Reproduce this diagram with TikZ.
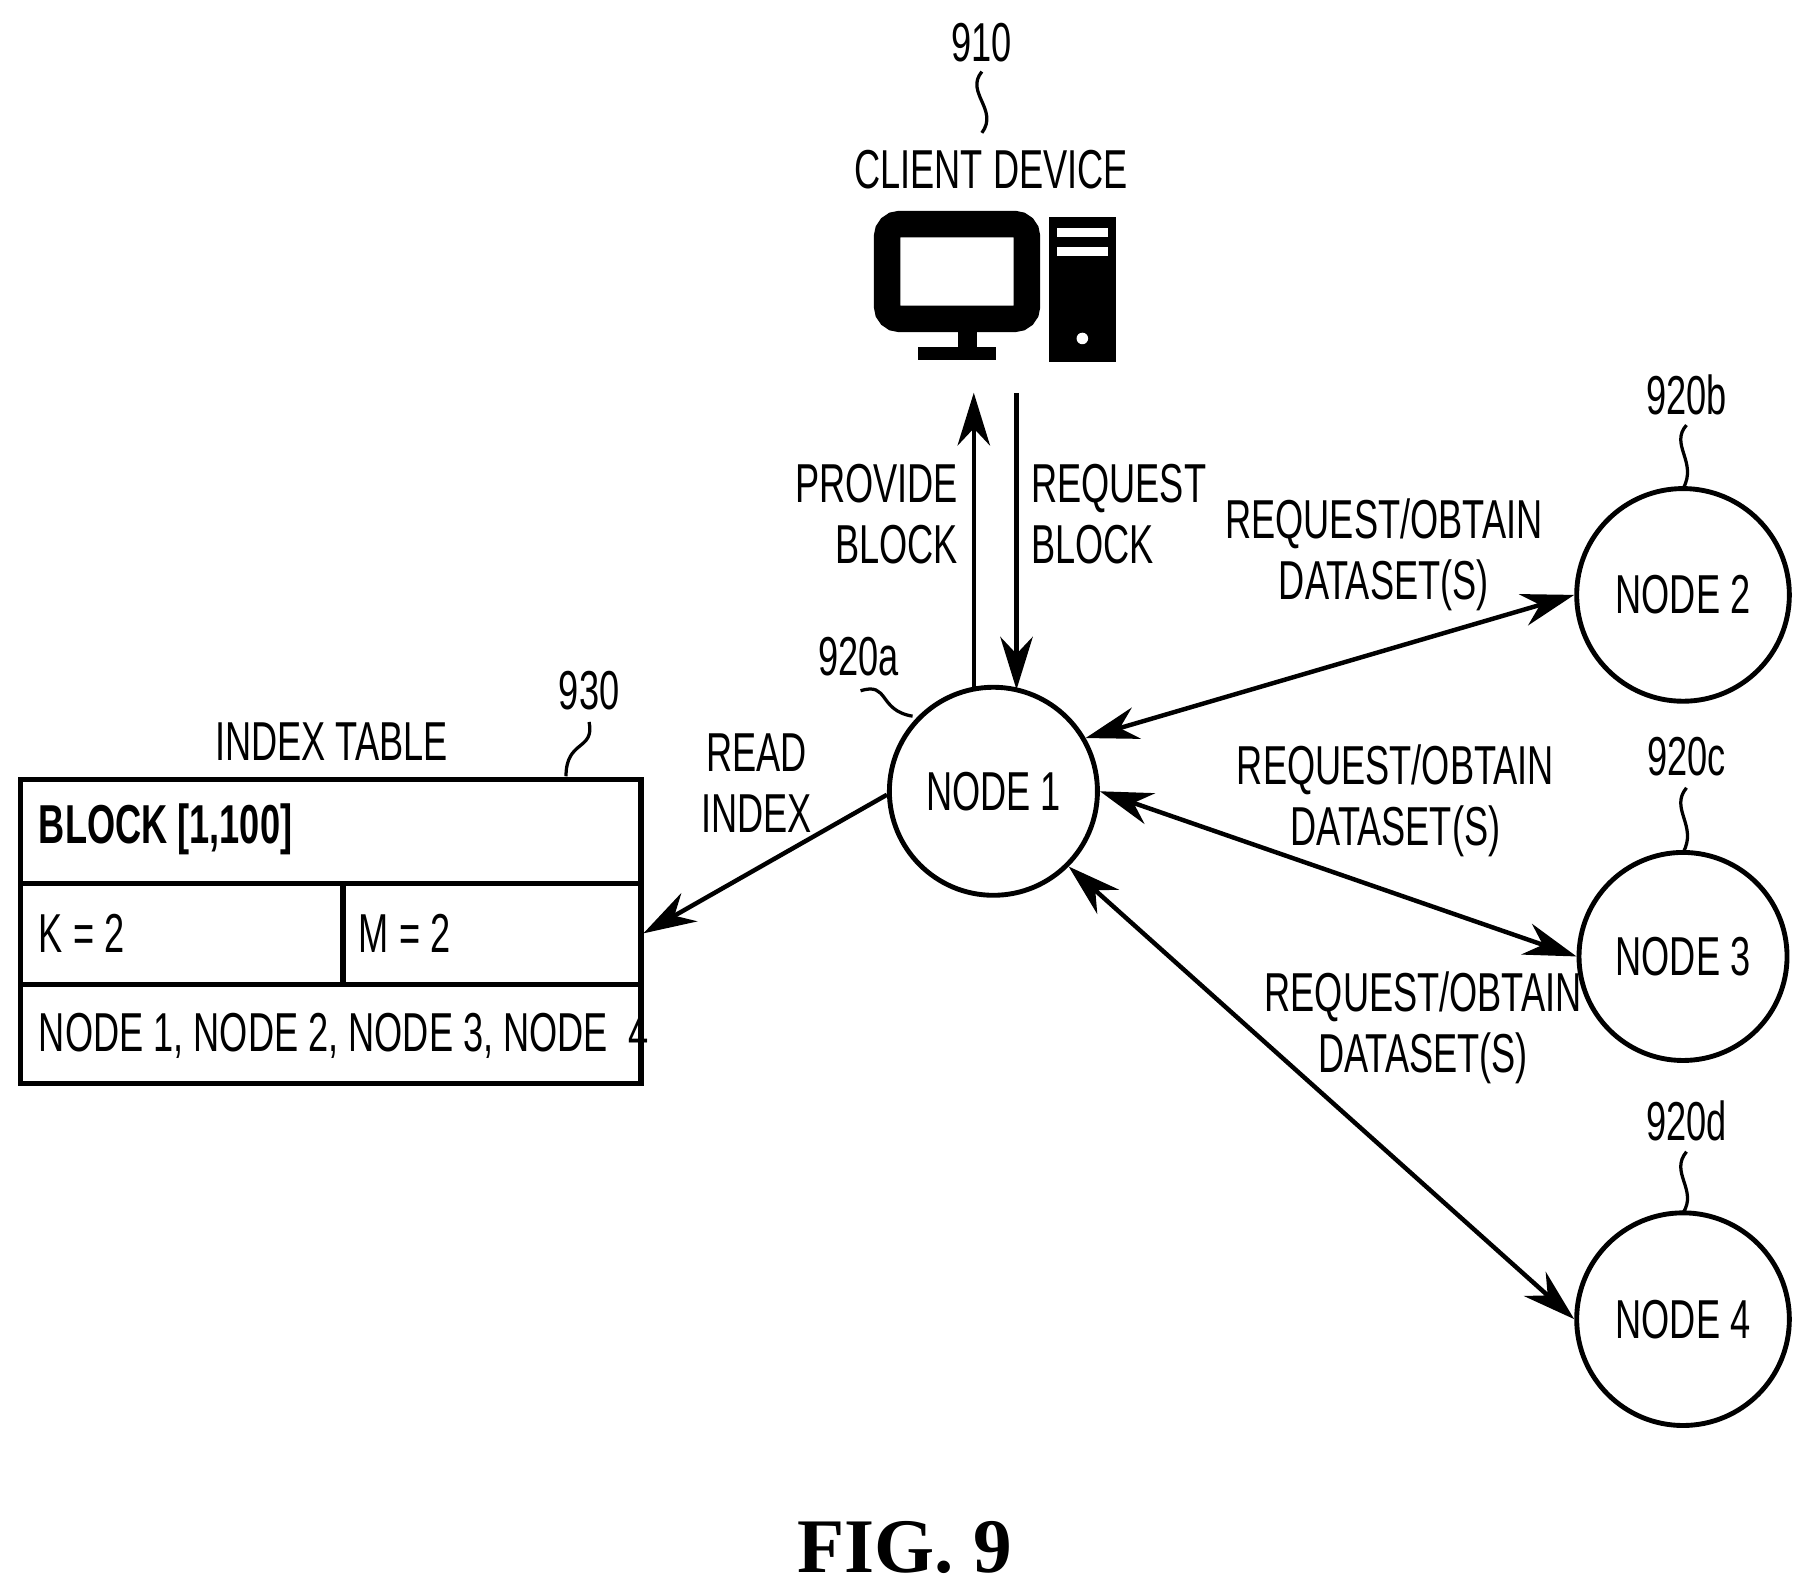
\documentclass[tikz,border=0pt]{standalone}
\usepackage{fontspec}
\setmainfont{Liberation Sans}[FakeStretch=0.66]
\newfontfamily\figfont{Liberation Serif}
\usetikzlibrary{arrows.meta}
\begin{document}
\begin{tikzpicture}[x=0.01cm,y=-0.01cm,
  lbl/.style={font=\fontsize{13.5}{15}\selectfont,inner sep=0pt,align=center},
  nd/.style={circle,draw,line width=1.2pt,minimum size=1.8cm,font=\fontsize{13.5}{15}\selectfont},
  ln/.style={line width=1.1pt},
  arr/.style={ln,-{Stealth[length=13pt,width=8pt]}},
  darr/.style={ln,{Stealth[length=13pt,width=8pt]}-{Stealth[length=13pt,width=8pt]}},
  sq/.style={line width=0.8pt}]
\useasboundingbox (0,0) rectangle (1560,1372);
% client
\node[lbl] (n910) at (850,37) {910};
\draw[sq] (850,62) .. controls (835,80) and (865,95) .. (850,115);
\node[lbl] (cd) at (858,147) {CLIENT DEVICE};
\draw[line width=6.5pt,rounded corners=3pt] (768,194) rectangle (889,276);
\fill (829,276) rectangle (846,302);
\fill (795,300) rectangle (862,312);
\fill (908,188) rectangle (966,313);
\fill[white] (915,197) rectangle (959,205);
\fill[white] (915,214) rectangle (959,222);
\fill[white] (937,293) circle (5);
\coordinate (pcb) at (843,340);
\coordinate (pct) at (880,340);
% nodes
\node[nd,minimum size=1.8cm] (n1) at (860,685) {NODE 1};
\node[nd,minimum size=1.84cm] (n2) at (1457,515) {NODE 2};
\node[nd,minimum size=1.8cm] (n3) at (1457,828) {NODE 3};
\node[nd,minimum size=1.84cm] (n4) at (1457,1142) {NODE 4};
\draw[arr] (843,595) -- (pcb);
\draw[arr] (pct) -- (880,597);
\node[lbl,align=right,anchor=east] (pb) at (830,445) {PROVIDE\\BLOCK};
\node[lbl,align=left,anchor=west] (rb) at (892,445) {REQUEST\\BLOCK};
\node[lbl] (l1a) at (743,568) {920a};
\draw[sq] (745,598) .. controls (770,590) and (760,615) .. (790,620);
\node[lbl] (l2) at (1460,342) {920b};
\draw[sq] (1460,368) .. controls (1445,385) and (1470,400) .. (1457,423);
\node[lbl] (l3) at (1460,655) {920c};
\draw[sq] (1460,682) .. controls (1445,700) and (1470,715) .. (1457,738);
\node[lbl] (l4) at (1460,970) {920d};
\draw[sq] (1460,997) .. controls (1445,1015) and (1470,1030) .. (1457,1050);
\draw[darr] (n1.30) -- (n2.west);
\draw[darr] (n1.east) -- (n3.west);
\draw[darr] (n1.-45) -- (n4.west);
\node[lbl] (d2) at (1198,480) {REQUEST/OBTAIN\\DATASET(S)};
\node[lbl] (d3) at (1208,693) {REQUEST/OBTAIN\\DATASET(S)};
\node[lbl] (d4) at (1232,890) {REQUEST/OBTAIN\\DATASET(S)};
% table
\node[lbl] (it) at (287,642) {INDEX TABLE};
\node[lbl] (n930) at (510,598) {930};
\draw[sq] (510,625) .. controls (515,650) and (490,640) .. (490,672);
\draw[line width=1.3pt] (18,675) rectangle (555,938);
\draw[line width=1.3pt] (18,765) -- (555,765) (18,852) -- (555,852) (297,765) -- (297,852);
\coordinate (tr) at (557,808);
\node[lbl,anchor=west,font=\fontsize{13.5}{15}\selectfont\bfseries] (blk) at (33,718) {BLOCK [1,100]};
\node[lbl,anchor=west] (k) at (33,808) {K = 2};
\node[lbl,anchor=west] (m) at (310,808) {M = 2};
\node[lbl,anchor=west] (nl) at (33,897) {NODE 1, NODE 2, NODE 3, NODE\ \ 4};
\draw[arr] (n1.west) ++(0,3) -- (tr);
\node[lbl] (ri) at (655,678) {READ\\INDEX};
\node[font=\figfont\bfseries\fontsize{19}{21}\selectfont] (fig) at (783,1340) {FIG. 9};
\end{tikzpicture}
\end{document}
